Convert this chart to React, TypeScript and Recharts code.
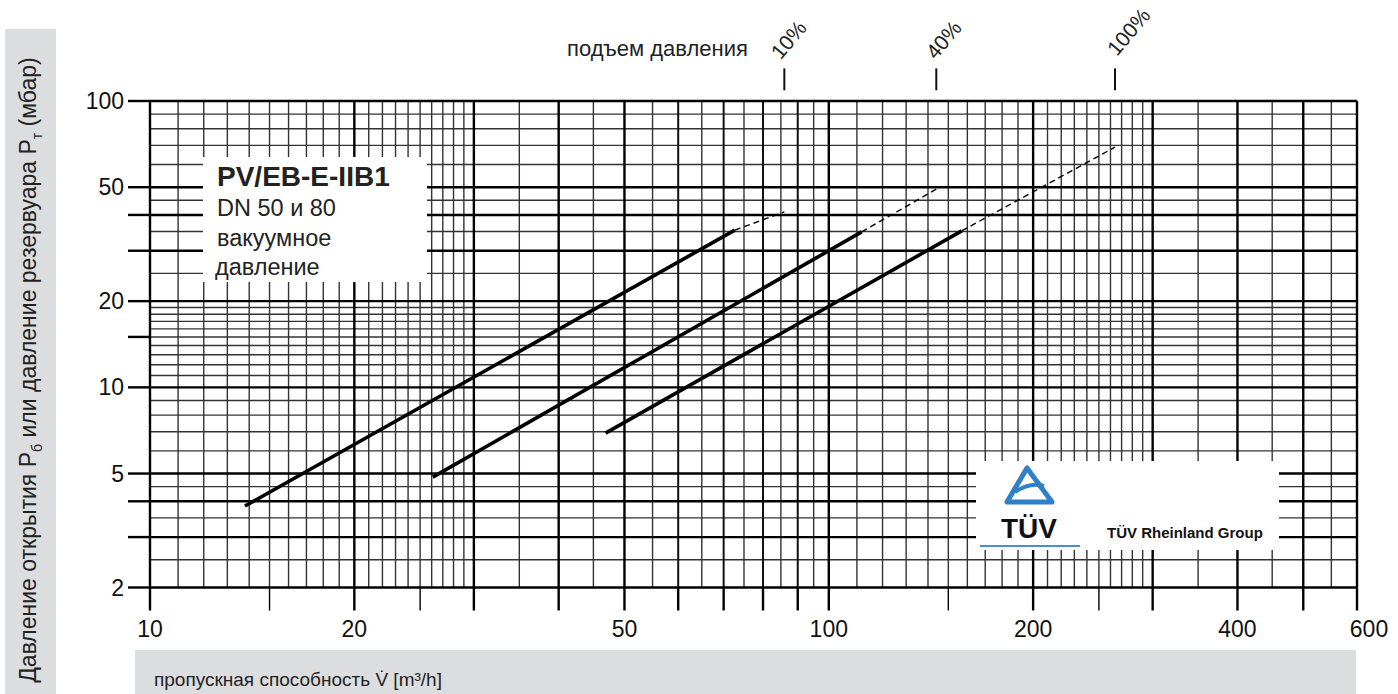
import React from 'react';
import { LineChart, Line, XAxis, YAxis, ReferenceLine } from 'recharts';

const FONT = '"Liberation Sans", Arial, Helvetica, sans-serif';

// axis ticks
const xTicks = [10, 15, 20, 25, 30, 40, 50, 60, 70, 80, 90, 100, 150, 200, 250, 300, 400, 500, 600];
const xTickLabels = [10, 20, 50, 100, 200, 400, 600];
const xThinTicks = [15, 25, 150, 250];
const yTicks = [2, 3, 4, 5, 10, 15, 20, 30, 40, 50, 100];
const yTickLabels = [2, 5, 10, 20, 50, 100];

// grid
const xGridMajor = [10, 20, 30, 40, 50, 100, 200, 300, 400, 500, 600];
const xGridMedium = [60, 70, 80, 90];
const xGridMinor = [
  11, 12, 13, 14, 15, 16, 17, 18, 19, 21, 22, 23, 24, 25, 26, 27, 28, 29,
  35, 45, 55, 65, 75, 85, 95,
  110, 120, 130, 140, 150, 160, 170, 180, 190,
  210, 220, 230, 240, 250, 260, 270, 280, 290,
  350, 450, 550,
];
const yGridMajor = [2, 3, 4, 5, 10, 20, 30, 40, 50, 100];
const yGridMinor = [2.5, 3.5, 4.5, 6, 7, 8, 9, 11, 12, 13, 14, 15, 16, 17, 18, 19, 25, 35, 45, 60, 70, 80, 90];

// curves: flow (m3/h) vs pressure (mbar)
const flow10 = [13.8, 72.7];
const press10 = [3.85, 35.4];
const flow10Ext = [72.7, 86];
const press10Ext = [35.4, 41];

const flow40 = [26.1, 111.8];
const press40 = [4.86, 34.9];
const flow40Ext = [111.8, 145];
const press40Ext = [34.9, 49.7];

const flow100 = [46.9, 157];
const press100 = [6.92, 35.2];
const flow100Ext = [157, 264];
const press100Ext = [35.2, 69];

// pressure rise markers above the chart
const riseFlow = [86, 144, 264];

const toRows = (xs: number[], ys: number[]) => xs.map((x, i) => ({ x, y: ys[i] }));

const XTick = (props: any) => {
  const { x, y, payload } = props;
  const v = payload.value;
  const thin = xThinTicks.includes(v);
  return (
    <g>
      <line x1={x} x2={x} y1={y} y2={y + 23} stroke="#000" strokeWidth={thin ? 1.4 : 2.4} />
      {xTickLabels.includes(v) && (
        <text x={v === 600 ? x + 12 : x} y={y + 49} textAnchor="middle" fontSize={23} fill="#111" fontFamily={FONT}>
          {v}
        </text>
      )}
    </g>
  );
};

const YTick = (props: any) => {
  const { x, y, payload } = props;
  const v = payload.value;
  return (
    <g>
      <line x1={x - 22} x2={x} y1={y} y2={y} stroke="#000" strokeWidth={2.4} />
      {yTickLabels.includes(v) && (
        <text x={x - 26} y={y + 8} textAnchor="end" fontSize={23} fill="#111" fontFamily={FONT}>
          {v}
        </text>
      )}
    </g>
  );
};

export default function App() {
  return (
    <div style={{ position: 'absolute', left: 0, top: 0, width: 1398, height: 694, background: '#fff', overflow: 'hidden' }}>
      <LineChart width={1398} height={694} margin={{ top: 101, right: 41, bottom: 0, left: 0 }}>
        <XAxis
          dataKey="x"
          type="number"
          scale="log"
          domain={[10, 600]}
          allowDataOverflow
          ticks={xTicks}
          interval={0}
          tick={(p: any) => <XTick {...p} />}
          tickLine={false}
          axisLine={false}
          tickSize={0}
          tickMargin={0}
          height={106.5}
        />
        <YAxis
          dataKey="y"
          type="number"
          scale="log"
          domain={[2, 100]}
          allowDataOverflow
          ticks={yTicks}
          interval={0}
          tick={(p: any) => <YTick {...p} />}
          tickLine={false}
          axisLine={false}
          tickSize={0}
          tickMargin={0}
          width={150}
        />
        {xGridMinor.map((v) => (
          <ReferenceLine key={'xm' + v} x={v} stroke="#333" strokeWidth={1.4} />
        ))}
        {yGridMinor.map((v) => (
          <ReferenceLine key={'ym' + v} y={v} stroke="#333" strokeWidth={1.4} />
        ))}
        {xGridMedium.map((v) => (
          <ReferenceLine key={'xd' + v} x={v} stroke="#111" strokeWidth={2} />
        ))}
        {xGridMajor.map((v) => (
          <ReferenceLine key={'xM' + v} x={v} stroke="#000" strokeWidth={2.4} />
        ))}
        {yGridMajor.map((v) => (
          <ReferenceLine key={'yM' + v} y={v} stroke="#000" strokeWidth={2.4} />
        ))}

        <Line data={toRows(flow10, press10)} dataKey="y" type="linear" stroke="#000" strokeWidth={3.6} dot={false} isAnimationActive={false} />
        <Line data={toRows(flow10Ext, press10Ext)} dataKey="y" type="linear" stroke="#000" strokeWidth={1.4} strokeDasharray="6 4" dot={false} isAnimationActive={false} />
        <Line data={toRows(flow40, press40)} dataKey="y" type="linear" stroke="#000" strokeWidth={3.6} dot={false} isAnimationActive={false} />
        <Line data={toRows(flow40Ext, press40Ext)} dataKey="y" type="linear" stroke="#000" strokeWidth={1.4} strokeDasharray="6 4" dot={false} isAnimationActive={false} />
        <Line data={toRows(flow100, press100)} dataKey="y" type="linear" stroke="#000" strokeWidth={3.6} dot={false} isAnimationActive={false} />
        <Line data={toRows(flow100Ext, press100Ext)} dataKey="y" type="linear" stroke="#000" strokeWidth={1.4} strokeDasharray="6 4" dot={false} isAnimationActive={false} />

        {riseFlow.map((v) => (
          <ReferenceLine
            key={'r' + v}
            segment={[{ x: v, y: 109 }, { x: v, y: 130 }]}
            ifOverflow="visible"
            stroke="#111"
            strokeWidth={2}
          />
        ))}
      </LineChart>

      <svg width={1398} height={694} style={{ position: 'absolute', left: 0, top: 0, pointerEvents: 'none' }} fontFamily={FONT}>
        {/* y axis title */}
        <rect x={5} y={29} width={51} height={665} fill="#dcdddf" />
        <text transform="translate(36,370) rotate(-90)" textAnchor="middle" fontSize={23} fill="#222">
          Давление открытия P<tspan fontSize={14} dy={6}>б</tspan>
          <tspan dy={-6}> или давление резервуара P</tspan>
          <tspan fontSize={14} dy={6}>т</tspan>
          <tspan dy={-6}> (мбар)</tspan>
        </text>

        {/* x axis title */}
        <rect x={135} y={650} width={1221} height={44} fill="#dcdddf" />
        <text x={154} y={686} fontSize={19} fill="#222">
          пропускная способность V̇ [m³/h]
        </text>

        {/* pressure rise */}
        <text x={567} y={56} fontSize={22} fill="#222">подъем давления</text>
        <text x={789} y={47} fontSize={21} fill="#222" textAnchor="middle" transform="rotate(-50 789 40)">10%</text>
        <text x={944} y={47} fontSize={21} fill="#222" textAnchor="middle" transform="rotate(-50 944 40)">40%</text>
        <text x={1129} y={39} fontSize={21} fill="#222" textAnchor="middle" transform="rotate(-50 1129 32)">100%</text>

        {/* product box */}
        <rect x={203} y={157} width={224} height={125} fill="#fff" />
        <text x={217} y={186} fontSize={28} fontWeight="bold" fill="#222">PV/EB-E-IIB1</text>
        <text x={217} y={216} fontSize={23.5} fill="#222">DN 50 и 80</text>
        <text x={217} y={246} fontSize={23.5} fill="#222">вакуумное</text>
        <text x={215} y={275} fontSize={23.5} fill="#222">давление</text>

        {/* TUV logo */}
        <rect x={976} y={461} width={303} height={89} fill="#fff" />
        <path d="M1027 468 L1007 502 L1052 502 Z" fill="none" stroke="#2f80c8" strokeWidth={5} strokeLinejoin="round" />
        <path d="M1015 492 Q1030 482 1044 486" fill="none" stroke="#2f80c8" strokeWidth={4} />
        <text x={1029} y={538} fontSize={28} fontWeight="bold" fill="#111" textAnchor="middle">TÜV</text>
        <line x1={980} x2={1080} y1={546} y2={546} stroke="#4a8fd0" strokeWidth={2} />
        <text x={1107} y={538} fontSize={15} fontWeight="bold" fill="#111">TÜV Rheinland Group</text>
      </svg>
    </div>
  );
}
